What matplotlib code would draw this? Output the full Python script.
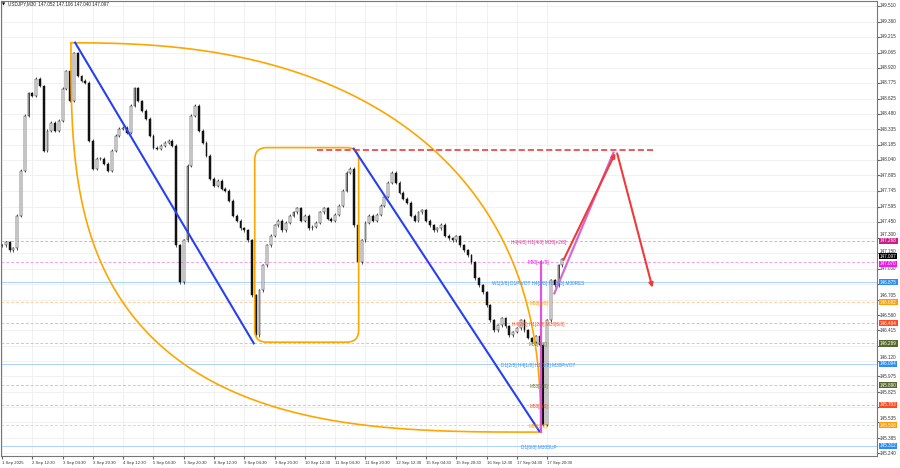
import matplotlib.pyplot as plt
from matplotlib.patches import FancyBboxPatch
import numpy as np

plt.rcParams['font.family'] = ['Liberation Sans', 'DejaVu Sans']

# USDJPY M30 closes, sampled every 4 bars (2 hours)
closes = [147.224, 147.253, 147.177, 147.196, 147.510, 147.939, 148.462, 148.681, 148.653, 148.815,
          148.748, 148.129, 148.319, 148.396, 148.319, 148.415, 148.720, 148.891, 148.605, 149.062,
          148.843, 148.796, 148.777, 148.224, 147.958, 148.053, 148.053, 148.005, 147.939, 148.129,
          148.272, 148.339, 148.348, 148.300, 148.558, 148.729, 148.605, 148.510, 148.434, 148.272,
          148.158, 148.148, 148.177, 148.205, 148.224, 148.177, 147.224, 146.872, 147.272, 147.986,
          148.462, 148.558, 148.319, 148.205, 148.081, 147.862, 147.796, 147.843, 147.767, 147.748,
          147.653, 147.510, 147.462, 147.386, 147.367, 147.272, 146.748, 146.367, 146.796, 147.034,
          147.224, 147.319, 147.415, 147.462, 147.367, 147.443, 147.510, 147.539, 147.577, 147.462,
          147.510, 147.386, 147.405, 147.443, 147.539, 147.577, 147.481, 147.462, 147.519, 147.605,
          147.748, 147.919, 147.958, 147.415, 147.062, 147.272, 147.443, 147.510, 147.462, 147.519,
          147.605, 147.691, 147.824, 147.919, 147.824, 147.729, 147.672, 147.634, 147.510, 147.462,
          147.539, 147.558, 147.462, 147.415, 147.367, 147.386, 147.424, 147.319, 147.291, 147.272,
          147.310, 147.224, 147.177, 147.129, 147.062, 146.910, 146.843, 146.777, 146.653, 146.510,
          146.415, 146.462, 146.529, 146.453, 146.367, 146.396, 146.434, 146.510, 146.415, 146.339,
          146.301, 146.358, 146.272, 145.510, 146.510, 146.891, 146.843, 147.034, 147.097]

date_labels = ['1 Sep 2025', '2 Sep 12:30', '3 Sep 04:30', '3 Sep 20:30', '4 Sep 12:30',
               '5 Sep 04:30', '5 Sep 20:30', '8 Sep 12:30', '9 Sep 04:30', '9 Sep 20:30',
               '10 Sep 12:30', '11 Sep 04:30', '11 Sep 20:30', '12 Sep 12:30', '15 Sep 04:30',
               '15 Sep 20:30', '16 Sep 12:30', '17 Sep 04:30', '17 Sep 20:30']

price_ticks = [149.510, 149.360, 149.215, 149.065, 148.920, 148.775, 148.625, 148.480, 148.335,
               148.185, 148.040, 147.895, 147.745, 147.595, 147.450, 147.300, 147.150, 147.000,
               146.855, 146.705, 146.560, 146.415, 146.265, 146.120, 145.975, 145.825, 145.680,
               145.535, 145.385, 145.240]

levels = [147.268, 147.070, 146.875, 146.682, 146.484, 146.289, 146.094, 145.890, 145.703, 145.508, 145.312]
level_names = ['H4[4/8] H1[4/8] M30[+2/8]', 'M30[+1/8]', 'W1[3/8] D1PIVOT H4[3/8] H1[3/8] M30RES',
               'M30[7/8]', 'H4[2/8] H1[2/8] M30[6/8]', 'M30[5/8]', 'D1[2/8] H4[1/8] H1[1/8] M30PIVOT',
               'M30[3/8]', 'M30[2/8]', 'M30[1/8]', 'D1[0/8] M30SUP']
level_kinds = ['pink', 'magenta', 'blue', 'orange', 'red', 'olive', 'blue', 'olive', 'red', 'orange', 'blue']

last_price = 147.097

# drawn objects (bar index, price)
arc_start = (18.2, 149.158)
arc_end = (142.3, 145.443)
blue1_x, blue1_y = [19.3, 66.5], [149.160, 146.290]
blue2_x, blue2_y = [92.9, 141.9], [148.148, 145.453]
box_x, box_y = [66.75, 94.2], [146.301, 148.158]
target_x, target_y = [83.1, 172.0], [148.139, 148.139]
red_up_x, red_up_y = [148.0, 162.3], [147.062, 148.129]
red_dn_x, red_dn_y = [162.3, 172.0], [148.129, 146.796]
pink_x, pink_y = [145.9, 161.5], [146.767, 148.110]
vert_x, vert_y = [142.5, 142.5], [147.062, 145.443]

styles = {
    'pink': dict(line='#f5a3d3', ls=(0, (3, 2)), text='#d63399', box='#c8208a'),
    'magenta': dict(line='#f2a0f2', ls=(0, (3, 2)), text='#e619e6', box='#ea1aea'),
    'blue': dict(line='#a9d3ff', ls='-', text='#2e8df5', box='#2e8df5'),
    'orange': dict(line='#ffcf9e', ls=(0, (3, 2)), text='#f59a00', box='#ff9d0a'),
    'red': dict(line='#ffb3a6', ls=(0, (3, 2)), text='#f5502e', box='#ff4a22'),
    'olive': dict(line='#c9cfae', ls=(0, (3, 2)), text='#6b7d3a', box='#55692f'),
}

fig = plt.figure(figsize=(9, 4.68), dpi=100)
ax = fig.add_axes([0.001, 12 / 468, 876 / 900, 1 - 12 / 468 - 0.002])
ax.set_xlim(-0.3, 231.1)
ax.set_ylim(145.215, 149.5576)
px_per_price = 456 / (149.5576 - 145.215)

# grid and ticks
ax.set_yticks(price_ticks)
ax.set_yticklabels([])
ax.set_xticks(np.arange(len(date_labels)) * 8)
ax.set_xticklabels(date_labels, ha='left')
ax.grid(True, color='#ececec', lw=0.5)
ax.set_axisbelow(True)
ax.yaxis.tick_right()
ax.tick_params(axis='y', length=2, color='#666666')
ax.tick_params(axis='x', labelsize=3.1, length=2, pad=1.5, color='#666666', labelcolor='#333333')
for s in ax.spines.values():
    s.set_color('#777777')
    s.set_linewidth(0.8)

# price scale labels; ones just below a level box are hidden, ones just above are nudged up
marks = levels + [last_price]
for p in price_ticks:
    gaps = [(p - m) * px_per_price for m in marks]
    near = [g for g in gaps if abs(g) < 6.8]
    if any(-3.5 < g <= 0 for g in near):
        continue
    y = p
    for g in near:
        if g > 0:
            y = p + (6.8 - g) / px_per_price
        else:
            y = p - (6.8 + g) / px_per_price
    ax.annotate(f'{p:.3f}', xy=(1.0, y), xycoords=('axes fraction', 'data'), xytext=(2.2, 0),
                textcoords='offset points', fontsize=3.3, color='#333333', va='center', ha='left',
                annotation_clip=False)

# level lines
for p, name, kind in zip(levels, level_names, level_kinds):
    st = styles[kind]
    ax.axhline(p, color=st['line'], ls=st['ls'], lw=0.7, zorder=1)
    ax.text(141.7, p - 0.012, name, color=st['text'], fontsize=3.4, ha='center', va='center', zorder=6)
    dy = -1.5 if abs(p - last_price) < 0.05 else 0
    ax.annotate(f'{p:.3f}', xy=(1.0, p), xycoords=('axes fraction', 'data'), xytext=(2.2, dy),
                textcoords='offset points', fontsize=3.3, color='white', va='center', ha='left',
                bbox=dict(boxstyle='square,pad=0.15', fc=st['box'], ec='none'),
                annotation_clip=False, zorder=7)
ax.annotate(f'{last_price:.3f}', xy=(1.0, last_price), xycoords=('axes fraction', 'data'), xytext=(2.2, 1.8),
            textcoords='offset points', fontsize=3.3, color='white', va='center', ha='left',
            bbox=dict(boxstyle='square,pad=0.15', fc='black', ec='none'), annotation_clip=False, zorder=8)

# candles
opens = [closes[0]] + closes[:-1]
for i, (o, c) in enumerate(zip(opens, closes)):
    lo, hi = min(o, c), max(o, c)
    ax.vlines(i, lo - 0.012, hi + 0.012, color='#111111', lw=0.5, zorder=3)
    ax.bar(i, max(hi - lo, 0.004), bottom=lo, width=0.5,
           color='white' if c >= o else '#111111', edgecolor='#111111', lw=0.35, zorder=3)

# orange arcs
t = np.linspace(0, np.pi / 2, 200)
a = arc_end[0] - arc_start[0]
b = arc_start[1] - arc_end[1]
ct, st_ = np.cos(t) ** (2 / 2.4), np.sin(t) ** (2 / 2.4)
ax.plot(arc_start[0] + a * ct, arc_end[1] + b * st_, color='#ffa500', lw=1.2, zorder=4)
ct, st_ = np.cos(t) ** (2 / 3.0), np.sin(t) ** (2 / 3.0)
ax.plot(arc_end[0] - a * ct, arc_start[1] - b * st_, color='#ffa500', lw=1.2, zorder=4)

# orange rounded box
aspect = (1 / 105) / (1 / 3.79)
box = FancyBboxPatch((box_x[0], box_y[0]), box_x[1] - box_x[0], box_y[1] - box_y[0],
                     boxstyle='round,pad=0,rounding_size=3.2', mutation_aspect=aspect,
                     fc='none', ec='#ffa500', lw=1.2, zorder=4)
ax.add_patch(box)

# trend lines
ax.plot(blue1_x, blue1_y, color='#2740f0', lw=1.5, zorder=4)
ax.plot(blue2_x, blue2_y, color='#2740f0', lw=1.5, zorder=4)
ax.plot(target_x, target_y, color='#ee2a2a', lw=1.1, ls=(0, (4, 2)), zorder=4)
ax.plot(vert_x, vert_y, color='#dd55dd', lw=1.6, zorder=4)
ax.plot(pink_x, pink_y, color='#d46bd4', lw=1.6, zorder=4)
ax.annotate('', xy=(red_up_x[1], red_up_y[1]), xytext=(red_up_x[0], red_up_y[0]),
            arrowprops=dict(arrowstyle='-|>', color='#f03a3a', lw=1.5, mutation_scale=6), zorder=5)
ax.annotate('', xy=(red_dn_x[1], red_dn_y[1]), xytext=(red_dn_x[0], red_dn_y[0]),
            arrowprops=dict(arrowstyle='-|>', color='#f03a3a', lw=1.5, mutation_scale=6), zorder=5)

fig.text(2 / 900, 1 - 4 / 468, '\u25bc', fontsize=3, va='center', ha='left', family='DejaVu Sans')
fig.text(8 / 900, 1 - 4 / 468, 'USDJPY,M30  147.052 147.106 147.040 147.097', fontsize=3.3,
         va='center', ha='left', color='#222222')

fig.savefig('out.png', dpi=100, facecolor='white')
